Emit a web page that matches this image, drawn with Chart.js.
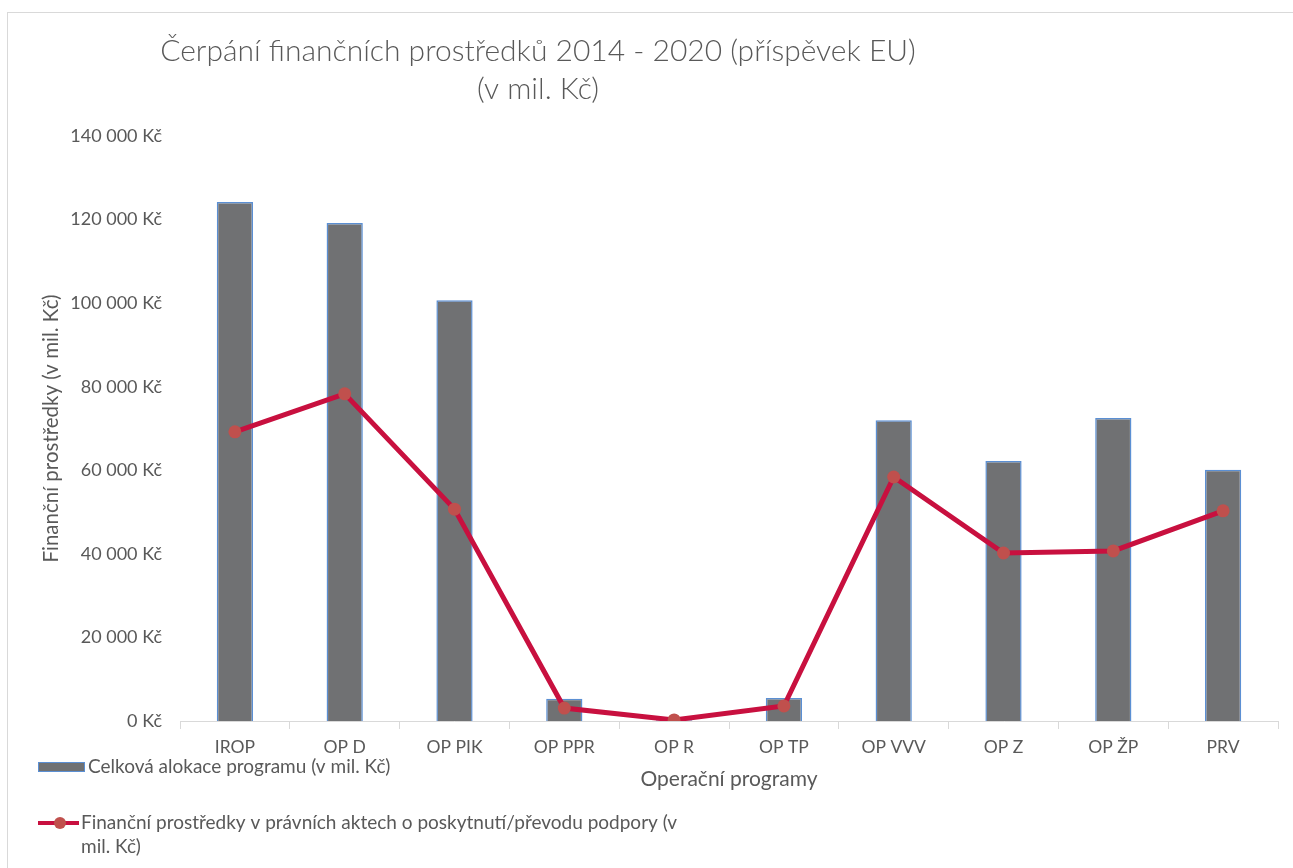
<!DOCTYPE html>
<html>
<head>
<meta charset="utf-8">
<script src="https://cdn.jsdelivr.net/npm/chart.js@4"></script>
<style>
  html, body { margin: 0; padding: 0; background: #fff; }
  #wrap { width: 1293px; height: 868px; }
</style>
</head>
<body>
<div id="wrap"><canvas id="chart"></canvas></div>
<script>
// data
const programs = ['IROP', 'OP D', 'OP PIK', 'OP PPR', 'OP R', 'OP TP', 'OP VVV', 'OP Z', 'OP ŽP', 'PRV'];
const allocation = [124200, 119200, 100700, 5300, 150, 5500, 72000, 62200, 72500, 60100];
const legalActs = [69200, 78300, 50700, 3100, 250, 3600, 58400, 40200, 40700, 50300];
const titleLines = ['Čerpání finančních prostředků 2014 - 2020 (příspěvek EU)', '(v mil. Kč)'];
const yTitle = 'Finanční prostředky (v mil. Kč)';
const xTitle = 'Operační programy';
const allocationLabel = 'Celková alokace programu (v mil. Kč)';
const legalActsLabel = 'Finanční prostředky v právních aktech o poskytnutí/převodu podpory (v mil. Kč)';

const FONT = 'Lato, "Open Sans", sans-serif';
const TEXT = '#595959';

function kc(v) {
    return String(v).replace(/\B(?=(\d{3})+(?!\d))/g, ' ') + ' Kč';
}

// frame, title and the legend the way Excel lays them out
const decorations = {
    id: 'decorations',
    beforeDraw(chart) {
        const ctx = chart.ctx;
        ctx.save();
        ctx.strokeStyle = '#d9d9d9';
        ctx.lineWidth = 1;
        ctx.strokeRect(7.5, 12.5, 1400, 1000);
        ctx.restore();
    },
    afterDraw(chart) {
        const ctx = chart.ctx;
        ctx.save();
        ctx.fillStyle = TEXT;
        ctx.font = '300 30px ' + FONT;
        ctx.textAlign = 'center';
        ctx.textBaseline = 'middle';
        ctx.fillText(titleLines[0], 538, 51);
        ctx.fillText(titleLines[1], 538, 89);

        // legend
        const ds = chart.data.datasets;
        ctx.font = '19px ' + FONT;
        ctx.textAlign = 'left';

        ctx.fillStyle = ds[0].backgroundColor;
        ctx.fillRect(38, 762, 47, 10);
        ctx.strokeStyle = ds[0].borderColor;
        ctx.lineWidth = 1;
        ctx.strokeRect(38.5, 762.5, 46, 9);
        ctx.fillStyle = TEXT;
        ctx.fillText(ds[0].label, 88, 767);

        ctx.strokeStyle = ds[1].borderColor;
        ctx.lineWidth = 4;
        ctx.beginPath();
        ctx.moveTo(38, 823);
        ctx.lineTo(79, 823);
        ctx.stroke();
        ctx.fillStyle = ds[1].pointBackgroundColor;
        ctx.beginPath();
        ctx.arc(60, 823, 6, 0, Math.PI * 2);
        ctx.fill();

        ctx.fillStyle = TEXT;
        const words = ds[1].label.split(' ');
        let line = '', y = 823;
        for (const w of words) {
            const test = line ? line + ' ' + w : w;
            if (ctx.measureText(test).width > 625 && line) {
                ctx.fillText(line, 81, y);
                line = w;
                y += 24;
            } else {
                line = test;
            }
        }
        ctx.fillText(line, 81, y);
        ctx.restore();
    }
};

new Chart(document.getElementById('chart'), {
    type: 'bar',
    data: {
        labels: programs,
        datasets: [{
            type: 'bar',
            label: allocationLabel,
            data: allocation,
            backgroundColor: '#707173',
            borderColor: '#5b8fd3',
            borderWidth: 1.5,
            barPercentage: 0.33,
            categoryPercentage: 1,
            order: 2
        }, {
            type: 'line',
            label: legalActsLabel,
            data: legalActs,
            borderColor: '#c8103f',
            borderWidth: 5,
            pointRadius: 6.5,
            pointHoverRadius: 6.5,
            pointBackgroundColor: '#c0504d',
            pointBorderWidth: 0,
            tension: 0,
            order: 1
        }]
    },
    options: {
        responsive: true,
        maintainAspectRatio: false,
        animation: false,
        layout: { padding: { left: 36, right: 15, top: 136, bottom: 76 } },
        plugins: {
            legend: { display: false },
            title: { display: false },
            tooltip: { enabled: false }
        },
        scales: {
            x: {
                grid: { display: true, drawOnChartArea: false, drawTicks: true, tickLength: 8, color: '#d9d9d9', offset: true },
                border: { display: true, color: '#d9d9d9', width: 1 },
                ticks: { color: TEXT, font: { family: FONT, size: 17.5 }, padding: 8 },
                title: { display: true, text: xTitle, color: TEXT, font: { family: FONT, size: 21 }, padding: { top: 3, bottom: 0 } },
                afterFit(s) { s.height = 71; }
            },
            y: {
                min: 0,
                max: 140000,
                grid: { display: false, drawTicks: false },
                border: { display: false },
                ticks: { stepSize: 20000, color: TEXT, font: { family: FONT, size: 18 }, padding: 18, callback: kc },
                title: { display: true, text: yTitle, color: TEXT, font: { family: FONT, size: 20.5 }, padding: { top: 3, bottom: 0 } },
                afterFit(s) { s.width = 144; }
            }
        }
    },
    plugins: [decorations]
});
</script>
</body>
</html>
